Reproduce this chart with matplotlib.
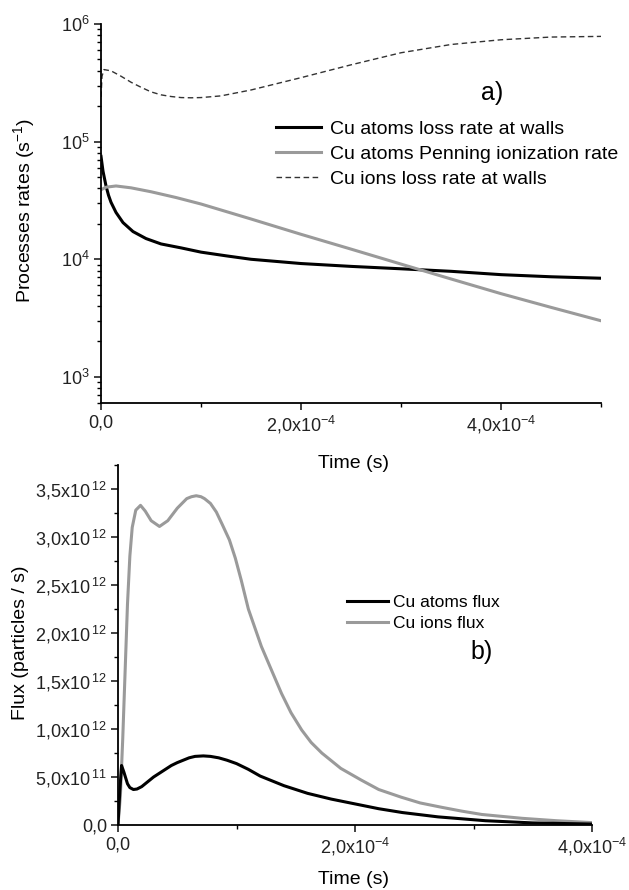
import numpy as np
import matplotlib
matplotlib.use("Agg")
import matplotlib.pyplot as plt
from matplotlib.ticker import FixedLocator, MultipleLocator, FuncFormatter, LogLocator, NullFormatter

plt.rcParams['font.family'] = ['Liberation Sans', 'DejaVu Sans']
plt.rcParams['mathtext.fontset'] = 'custom'
plt.rcParams['mathtext.rm'] = 'Liberation Sans'
plt.rcParams['mathtext.it'] = 'Liberation Sans:italic'
plt.rcParams['mathtext.default'] = 'regular'

# --- panel a) process rates (s^-1) vs time (s)
t_loss = [0, 2e-6, 5e-6, 7.5e-6, 1e-5, 1.5e-5, 2.2e-5, 3.2e-5, 4.5e-5, 6e-5, 8e-5,
          1e-4, 1.25e-4, 1.5e-4, 2e-4, 2.5e-4, 3e-4, 3.5e-4, 4e-4, 4.5e-4, 5e-4]
atoms_loss = [7.5e4, 5.6e4, 4.2e4, 3.5e4, 3.05e4, 2.5e4, 2.05e4, 1.72e4, 1.5e4, 1.35e4, 1.25e4,
              1.15e4, 1.07e4, 1.0e4, 9.2e3, 8.7e3, 8.3e3, 7.9e3, 7.4e3, 7.1e3, 6.9e3]

t_penning = [0, 5e-6, 1.5e-5, 3e-5, 5e-5, 7.5e-5, 1e-4, 1.5e-4, 2e-4, 2.5e-4,
             3e-4, 3.5e-4, 4e-4, 4.5e-4, 5e-4]
penning = [3.9e4, 4.1e4, 4.2e4, 4.05e4, 3.75e4, 3.35e4, 2.95e4, 2.2e4, 1.63e4, 1.22e4,
           9.1e3, 6.8e3, 5.1e3, 3.9e3, 3.0e3]

t_ions = [0, 1e-6, 3e-6, 1e-5, 2e-5, 3e-5, 4e-5, 5e-5, 6e-5, 7e-5, 8e-5, 9e-5,
          1e-4, 1.2e-4, 1.5e-4, 2e-4, 2.5e-4, 3e-4, 3.5e-4, 4e-4, 4.5e-4, 5e-4]
ions_loss = [2.4e5, 3.6e5, 4.1e5, 4.0e5, 3.6e5, 3.2e5, 2.9e5, 2.65e5, 2.5e5, 2.42e5, 2.37e5, 2.36e5,
             2.37e5, 2.45e5, 2.75e5, 3.5e5, 4.5e5, 5.7e5, 6.7e5, 7.35e5, 7.75e5, 7.85e5]

# --- panel b) fluxes (particles / s) vs time (s)
t_atoms_flux = [0, 1.5e-6, 3e-6, 5e-6, 8e-6, 1e-5, 1.3e-5, 1.6e-5, 2e-5, 2.5e-5, 3e-5,
                3.5e-5, 4e-5, 4.5e-5, 5e-5, 6e-5, 6.5e-5, 7.2e-5, 7.8e-5, 8.5e-5, 9.2e-5,
                1e-4, 1.1e-4, 1.2e-4, 1.3e-4, 1.4e-4, 1.5e-4, 1.6e-4, 1.8e-4, 2e-4,
                2.2e-4, 2.4e-4, 2.7e-4, 3.1e-4, 3.5e-4, 4e-4]
atoms_flux = [0, 0.35e12, 0.62e12, 0.55e12, 0.43e12, 0.39e12, 0.37e12, 0.375e12, 0.40e12,
              0.45e12, 0.50e12, 0.54e12, 0.58e12, 0.62e12, 0.65e12, 0.70e12, 0.715e12,
              0.72e12, 0.715e12, 0.70e12, 0.675e12, 0.64e12, 0.58e12, 0.51e12, 0.46e12,
              0.41e12, 0.37e12, 0.33e12, 0.27e12, 0.22e12, 0.17e12, 0.13e12, 0.085e12,
              0.045e12, 0.022e12, 0.01e12]

t_ions_flux = [0, 2e-6, 4e-6, 6e-6, 8e-6, 1e-5, 1.2e-5, 1.5e-5, 1.9e-5, 2.3e-5, 2.8e-5,
               3.5e-5, 4.2e-5, 5e-5, 5.8e-5, 6.2e-5, 6.6e-5, 7e-5, 7.3e-5, 7.8e-5, 8.3e-5,
               8.8e-5, 9.4e-5, 9.9e-5, 1.04e-4, 1.1e-4, 1.21e-4, 1.3e-4, 1.38e-4, 1.46e-4,
               1.55e-4, 1.63e-4, 1.72e-4, 1.88e-4, 2.05e-4, 2.2e-4, 2.39e-4, 2.55e-4,
               2.73e-4, 2.9e-4, 3.07e-4, 3.41e-4, 3.7e-4, 4e-4]
ions_flux = [0, 0.3e12, 0.9e12, 1.6e12, 2.3e12, 2.8e12, 3.1e12, 3.28e12, 3.33e12, 3.27e12,
             3.17e12, 3.11e12, 3.17e12, 3.3e12, 3.4e12, 3.42e12, 3.43e12, 3.42e12, 3.4e12,
             3.35e12, 3.26e12, 3.13e12, 2.97e12, 2.78e12, 2.55e12, 2.25e12, 1.86e12, 1.6e12,
             1.37e12, 1.17e12, 0.99e12, 0.86e12, 0.75e12, 0.59e12, 0.47e12, 0.37e12,
             0.29e12, 0.23e12, 0.185e12, 0.145e12, 0.11e12, 0.07e12, 0.045e12, 0.025e12]

x_ticks_a = [0, 2e-4, 4e-4]
x_labels_a = ['0,0', '2,0x10$^{-4}$', '4,0x10$^{-4}$']
x_ticks_b = [0, 2e-4, 4e-4]
x_labels_b = ['0,0', '2,0x10$^{-4}$', '4,0x10$^{-4}$']
y_ticks_b = [0, 0.5e12, 1.0e12, 1.5e12, 2.0e12, 2.5e12, 3.0e12, 3.5e12]
y_labels_b = ['0,0', '5,0x10$\\,^{11}$', '1,0x10$\\,^{12}$', '1,5x10$\\,^{12}$', '2,0x10$\\,^{12}$',
              '2,5x10$\\,^{12}$', '3,0x10$\\,^{12}$', '3,5x10$\\,^{12}$']

gray = '#9a9a9a'

fig = plt.figure(figsize=(6.29, 8.90), dpi=100)
ax1 = fig.add_axes([0.1606, 0.5472, 0.795, 0.4258])
ax2 = fig.add_axes([0.1876, 0.0730, 0.7536, 0.4045])
ax2.patch.set_visible(False)

for ax in (ax1, ax2):
    ax.spines['top'].set_visible(False)
    ax.spines['right'].set_visible(False)
    ax.spines['left'].set_linewidth(1.3)
    ax.spines['bottom'].set_linewidth(1.3)
    ax.tick_params(which='major', direction='out', length=5, width=1.2, labelsize=13,
                   colors='#222222', pad=3)
    ax.tick_params(which='minor', direction='out', length=3, width=1.0)

# panel a
ax1.plot(t_loss, atoms_loss, color='black', lw=2.2, label='Cu atoms loss rate at walls')
ax1.plot(t_penning, penning, color=gray, lw=2.2, label='Cu atoms Penning ionization rate')
ax1.plot(t_ions, ions_loss, color='#333333', lw=1.0, ls=(0, (4, 2.5)), label='Cu ions loss rate at walls')
ax1.set_yscale('log')
ax1.set_ylim(600, 1e6)
ax1.set_xlim(0, 5e-4)
ax1.yaxis.set_major_locator(LogLocator(base=10, numticks=10))
ax1.yaxis.set_minor_locator(LogLocator(base=10, subs=np.arange(2, 10), numticks=20))
ax1.yaxis.set_minor_formatter(NullFormatter())
ax1.yaxis.set_major_formatter(FuncFormatter(lambda v, p: '10$^{%d}$' % int(round(np.log10(v)))))
ax1.xaxis.set_major_locator(FixedLocator(x_ticks_a))
ax1.set_xticklabels(x_labels_a)
ax1.xaxis.set_minor_locator(MultipleLocator(1e-4))
ax1.set_xlabel('Time (s)', fontsize=14)
ax1.xaxis.set_label_coords(0.504, -0.137)
ax1.set_ylabel('Processes rates (s$^{-1}$)', fontsize=14)
ax1.yaxis.set_label_coords(-0.128, 0.509)
ax1.text(0.782, 0.818, 'a)', transform=ax1.transAxes, fontsize=18, ha='center', va='center')
ax1.legend(loc='upper left', bbox_to_anchor=(0.35, 0.745), frameon=False, fontsize=14,
           handlelength=2.3, handletextpad=0.45, labelspacing=0.38, borderpad=0, borderaxespad=0)

# panel b
ax2.plot(t_ions_flux, ions_flux, color=gray, lw=2.2, label='Cu ions flux', zorder=2)
ax2.plot(t_atoms_flux, atoms_flux, color='black', lw=2.2, label='Cu atoms flux', zorder=3)
ax2.set_xlim(0, 4e-4)
ax2.set_ylim(0, 3.75e12)
ax2.xaxis.set_major_locator(FixedLocator(x_ticks_b))
ax2.set_xticklabels(x_labels_b)
ax2.xaxis.set_minor_locator(MultipleLocator(1e-4))
ax2.yaxis.set_major_locator(FixedLocator(y_ticks_b))
ax2.set_yticklabels(y_labels_b)
ax2.yaxis.set_minor_locator(MultipleLocator(0.25e12))
ax2.set_xlabel('Time (s)', fontsize=14)
ax2.xaxis.set_label_coords(0.496, -0.128)
ax2.set_ylabel('Flux (particles / s)', fontsize=14)
ax2.yaxis.set_label_coords(-0.188, 0.506)
ax2.text(0.768, 0.48, 'b)', transform=ax2.transAxes, fontsize=18, ha='center', va='center')
h, l = ax2.get_legend_handles_labels()
ax2.legend(h[::-1], l[::-1], loc='upper left', bbox_to_anchor=(0.483, 0.638), frameon=False,
           fontsize=12.5, handlelength=2.36, handletextpad=0.29, labelspacing=0.3, borderpad=0,
           borderaxespad=0)

fig.savefig('out.png', dpi=100)
